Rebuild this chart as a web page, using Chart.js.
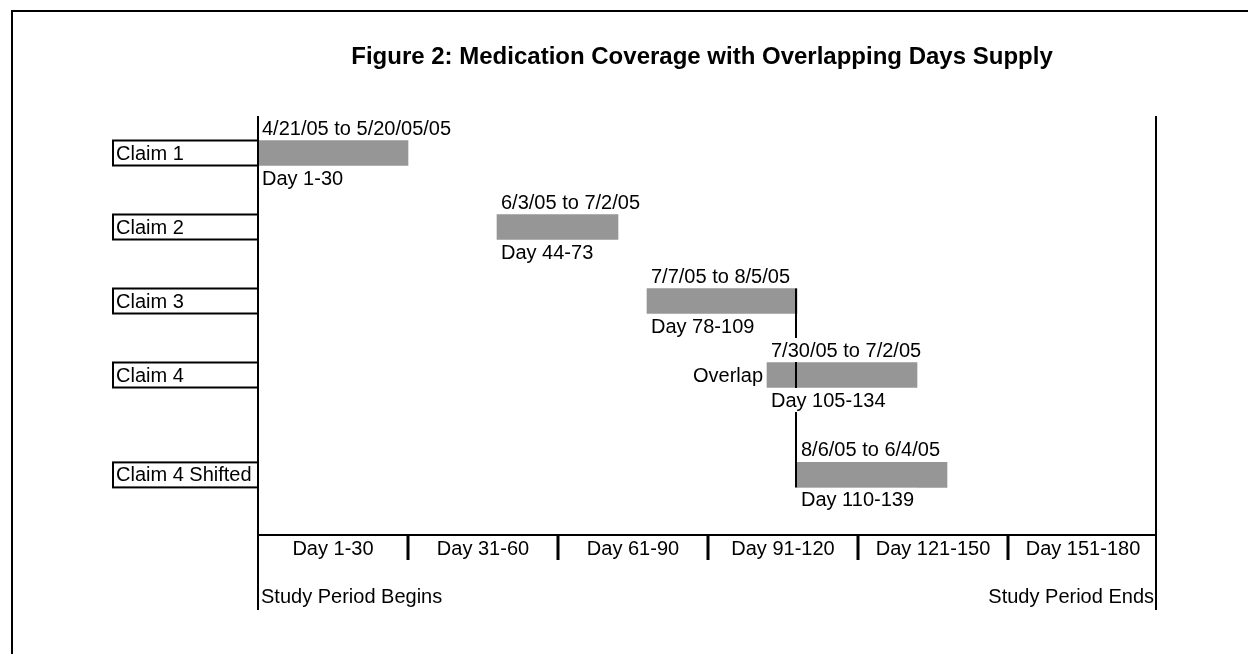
<!DOCTYPE html>
<html>
<head>
<meta charset="utf-8">
<script src="https://cdn.jsdelivr.net/npm/chart.js@4"></script>
<style>
  html, body { margin: 0; padding: 0; background: #fff; }
  #wrap { width: 1248px; height: 654px; }
</style>
</head>
<body>
<div id="wrap"><canvas id="coverageChart" width="1248" height="654"></canvas></div>
<script>
const rowNames = ['Claim 1', 'Claim 2', 'Claim 3', 'Claim 4', 'Claim 4 Shifted'];
const startDay = [0, 47.8, 77.8, 101.8, 107.8];
const endDay = [30, 72, 107.8, 131.8, 137.8];
const dateLabels = ['4/21/05 to 5/20/05/05', '6/3/05 to 7/2/05', '7/7/05 to 8/5/05', '7/30/05 to 7/2/05', '8/6/05 to 6/4/05'];
const dayLabels = ['Day 1-30', 'Day 44-73', 'Day 78-109', 'Day 105-134', 'Day 110-139'];
const rowPos = [0.5, 1.5, 2.5, 3.5, 4.85];
const periodLabels = ['Day 1-30', 'Day 31-60', 'Day 61-90', 'Day 91-120', 'Day 121-150', 'Day 151-180'];
const periodBreaks = [0, 30, 60, 90, 120, 150, 180];

const FONT = '"Liberation Sans", Arial, sans-serif';
Chart.defaults.font.family = FONT;

const diagram = {
  id: 'diagram',
  afterDatasetsDraw(chart) {
    const ctx = chart.ctx;
    const xs = chart.scales.x;
    const area = chart.chartArea;
    const bars = chart.getDatasetMeta(0).data.map(el => el.getProps(['x', 'y', 'base', 'height'], true));
    ctx.save();
    ctx.strokeStyle = '#000';
    ctx.fillStyle = '#000';

    // outer frame (top and left edges visible)
    ctx.lineWidth = 2;
    ctx.beginPath();
    ctx.moveTo(12, 654); ctx.lineTo(12, 11); ctx.lineTo(1248, 11);
    ctx.stroke();

    // title
    ctx.font = 'bold 24px ' + FONT;
    ctx.textAlign = 'center';
    ctx.textBaseline = 'alphabetic';
    ctx.fillText('Figure 2: Medication Coverage with Overlapping Days Supply', 702, 64);
    ctx.textBaseline = 'middle';

    // study period lines
    const x0 = xs.getPixelForValue(0), x1 = xs.getPixelForValue(180);
    const axisY = area.bottom;
    ctx.lineWidth = 2;
    ctx.beginPath();
    ctx.moveTo(x0, area.top); ctx.lineTo(x0, 610);
    ctx.moveTo(x1 - 2, area.top); ctx.lineTo(x1 - 2, 610);
    ctx.moveTo(x0, axisY); ctx.lineTo(x1 - 2, axisY);
    ctx.stroke();
    ctx.lineWidth = 3;
    ctx.beginPath();
    for (let i = 1; i < periodBreaks.length - 1; i++) {
      const px = Math.round(xs.getPixelForValue(periodBreaks[i]));
      ctx.moveTo(px, axisY); ctx.lineTo(px, axisY + 25);
    }
    ctx.stroke();

    ctx.font = '20px ' + FONT;
    ctx.textAlign = 'center';
    for (let i = 0; i < periodLabels.length; i++) {
      const cx = (xs.getPixelForValue(periodBreaks[i]) + xs.getPixelForValue(periodBreaks[i + 1])) / 2;
      ctx.fillText(periodLabels[i], cx, axisY + 14);
    }
    ctx.textAlign = 'left';
    ctx.fillText('Study Period Begins', x0 + 3, 597);
    ctx.textAlign = 'right';
    ctx.fillText('Study Period Ends', x1 - 4, 597);

    // line where claim 3 ends / shifted claim 4 begins
    const lx = Math.round(xs.getPixelForValue(endDay[2])) - 1;
    ctx.lineWidth = 2;
    ctx.beginPath();
    ctx.moveTo(lx, bars[2].y - bars[2].height / 2);
    ctx.lineTo(lx, bars[4].y + bars[4].height / 2);
    ctx.stroke();

    // row labels and bar annotations
    bars.forEach((b, i) => {
      const h = b.height;
      const left = Math.min(b.x, b.base);
      ctx.lineWidth = 2;
      ctx.strokeRect(113, b.y - h / 2, x0 - 113, h);
      ctx.fillStyle = '#000';
      ctx.textAlign = 'left';
      ctx.fillText(rowNames[i], 116, b.y + 1);

      [[dateLabels[i], b.y - h / 2 - 12.5], [dayLabels[i], b.y + h / 2 + 12.5]].forEach(([t, ty]) => {
        const w = ctx.measureText(t).width;
        ctx.fillStyle = '#fff';
        ctx.fillRect(left + 2, ty - 12, w + 6, 24);
        ctx.fillStyle = '#000';
        ctx.fillText(t, left + 4, ty + 1);
      });
    });
    ctx.textAlign = 'right';
    ctx.fillText('Overlap', Math.min(bars[3].x, bars[3].base) - 4, bars[3].y + 1);
    ctx.restore();
  }
};

new Chart(document.getElementById('coverageChart'), {
  type: 'bar',
  data: {
    datasets: [
      {
        label: 'Coverage',
        data: rowNames.map((_, i) => ({ y: rowPos[i], x: [startDay[i], endDay[i]] })),
        backgroundColor: '#969696',
        borderWidth: 0,
        barThickness: 25,
      },
    ],
  },
  options: {
    indexAxis: 'y',
    responsive: false,
    animation: false,
    layout: { padding: { left: 258, right: 90, top: 116, bottom: 119 } },
    plugins: { legend: { display: false }, tooltip: { enabled: false } },
    scales: {
      x: { type: 'linear', min: 0, max: 180, display: false },
      y: { type: 'linear', min: 0, max: 419 / 74, reverse: true, offset: false, display: false },
    },
  },
  plugins: [diagram],
});
</script>
</body>
</html>
